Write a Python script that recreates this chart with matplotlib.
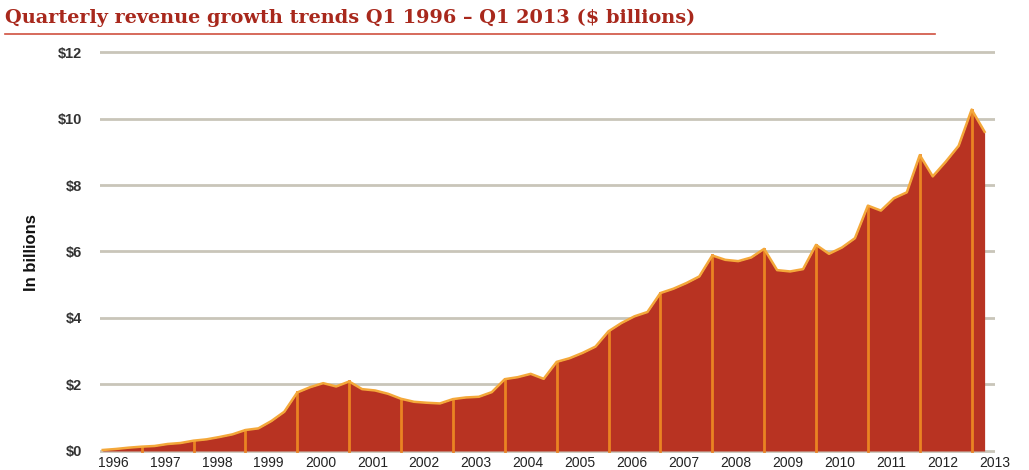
import matplotlib
matplotlib.use("Agg")
import matplotlib.pyplot as plt
from matplotlib.lines import Line2D

# quarterly revenue, Q1 1996 .. Q1 2013 ($ billions)
revenue = [0.03, 0.06, 0.10, 0.13,
           0.15, 0.21, 0.24, 0.31,
           0.35, 0.42, 0.50, 0.63,
           0.68, 0.90, 1.18, 1.76,
           1.92, 2.04, 1.94, 2.09,
           1.86, 1.82, 1.72, 1.57,
           1.48, 1.45, 1.43, 1.56,
           1.61, 1.63, 1.77, 2.16,
           2.22, 2.32, 2.17, 2.68,
           2.79, 2.95, 3.14, 3.60,
           3.85, 4.05, 4.18, 4.75,
           4.88, 5.05, 5.25, 5.88,
           5.75, 5.71, 5.82, 6.08,
           5.44, 5.40, 5.47, 6.20,
           5.93, 6.12, 6.40, 7.38,
           7.23, 7.60, 7.78, 8.90,
           8.26, 8.70, 9.18, 10.27,
           9.60]
years = list(range(1996, 2014))
yticks = [0, 2, 4, 6, 8, 10, 12]

x = list(range(len(revenue)))

W, H = 1029, 470
fig = plt.figure(figsize=(W / 100, H / 100), dpi=100)

# axes placed in pixel terms of the reference
left, right = 100, 995
bottom, top = 454.3, 48.7
ax = fig.add_axes([left / W, (H - bottom) / H, (right - left) / W, (bottom - top) / H])
ax.set_xlim(-0.21, 68.3)
ax.set_ylim(-0.1, 12.1)

for v in yticks:
    ax.axhline(v, color="#c9c5b9", lw=2, zorder=1)

ax.fill_between(x, revenue, 0, color="#b83322", lw=0, zorder=2)
ax.plot(x, revenue, color="#f4a83a", lw=1.8, zorder=4, solid_joinstyle="round")

# separators at Q4 of each year
for i in range(3, len(revenue), 4):
    ax.plot([i, i], [0, revenue[i]], color="#ea8322", lw=2, zorder=3)

for s in ax.spines.values():
    s.set_visible(False)
ax.tick_params(length=0)
ax.set_yticks(yticks)
ax.set_yticklabels(["$%d" % v for v in yticks], fontsize=10.5, color="#333333",
                   fontweight="bold", family="Liberation Sans")
ax.tick_params(axis="y", pad=13)
ax.set_xticks([4 * k + 0.8 for k in range(len(years))])
ax.set_xticklabels([str(y) for y in years], fontsize=10, color="#222222",
                   family="Liberation Sans")
ax.tick_params(axis="x", pad=1.5)

fig.text(32 / W, (H - 253) / H, "In billions", rotation=90, ha="center", va="center",
         fontsize=12, fontweight="bold", color="#111111", family="Liberation Sans")

fig.text(5 / W, (H - 18) / H, "Quarterly revenue growth trends Q1 1996 \u2013 Q1 2013 ($ billions)",
         ha="left", va="center", fontsize=13.9, fontweight="bold", color="#a8281c",
         family="DejaVu Serif")
fig.add_artist(Line2D([5 / W, 935 / W], [(H - 34) / H, (H - 34) / H],
                      color="#d0503f", lw=1.2, transform=fig.transFigure))

fig.savefig("out.png", dpi=100, facecolor="white")
